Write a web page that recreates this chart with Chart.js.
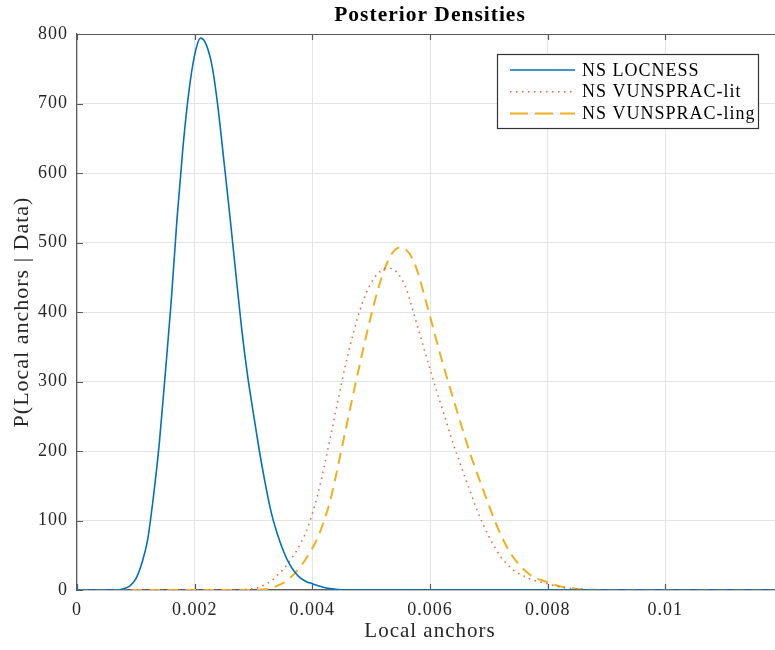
<!DOCTYPE html>
<html lang="en">
<head>
<meta charset="UTF-8">
<title>Posterior Densities</title>
<script src="https://cdn.jsdelivr.net/npm/chart.js"></script>
<style>
  html, body { margin: 0; padding: 0; background: #fff; overflow: hidden; }
</style>
</head>
<body>
<canvas id="posterior" width="790" height="650"></canvas>
<script>
const locnessX = [0, 0.0007, 0.0008, 0.0009, 0.0010, 0.0011, 0.0012, 0.0013, 0.0014, 0.0015, 0.0016, 0.0017,
  0.0018, 0.0019, 0.0020, 0.0021, 0.0022, 0.0023, 0.0024, 0.0025, 0.0026, 0.0027, 0.0028, 0.0029, 0.0030,
  0.0031, 0.0032, 0.0033, 0.0034, 0.0035, 0.0036, 0.0037, 0.0038, 0.0039, 0.0040, 0.0041, 0.0042, 0.0043,
  0.0044, 0.0045, 0.0046, 0.012];
const locnessY = [0, 0, 2, 6, 16, 38, 72, 135, 212, 311, 414, 534,
  636, 716, 770, 794, 784, 752, 692, 615, 537, 455, 375, 308, 253,
  200, 153, 112, 82, 58, 39, 26, 17, 12, 9, 6, 3.5, 2,
  1, 0.4, 0, 0];

const litX = [0, 0.0027, 0.0028, 0.0029, 0.0030, 0.0031, 0.0032, 0.0033, 0.0034, 0.0035, 0.0036, 0.0037,
  0.0038, 0.0039, 0.0040, 0.0041, 0.0042, 0.0043, 0.0044, 0.0045, 0.0046, 0.0047, 0.0048, 0.0049, 0.0050,
  0.0051, 0.0052, 0.0053, 0.0054, 0.0055, 0.0056, 0.0057, 0.0058, 0.0059, 0.0060, 0.0061, 0.0062, 0.0063,
  0.0064, 0.0065, 0.0066, 0.0067, 0.0068, 0.0069, 0.0070, 0.0071, 0.0072, 0.0073, 0.0074, 0.0075, 0.0076,
  0.0077, 0.0078, 0.0079, 0.0080, 0.0081, 0.0082, 0.0083, 0.0084, 0.0085, 0.0086, 0.0087, 0.0088, 0.0089, 0.012];
const litY = [0, 0, 0.5, 1, 2, 4, 8, 13, 21, 29, 40, 52,
  67, 85, 110, 140, 177, 217, 258, 299, 337, 371, 400, 424, 442,
  454, 461, 463, 460, 450, 433, 405, 376, 347, 318, 290, 263, 236,
  209, 185, 161, 138, 115, 95, 77, 62, 48, 38, 30, 24, 20,
  16, 13, 11, 9, 6.5, 4.5, 3, 2, 1.3, 0.8, 0.4, 0.2, 0, 0];

const lingX = [0, 0.0030, 0.0031, 0.0032, 0.0033, 0.0034, 0.0035, 0.0036, 0.0037, 0.0038, 0.0039, 0.0040,
  0.0041, 0.0042, 0.0043, 0.0044, 0.0045, 0.0046, 0.0047, 0.0048, 0.0049, 0.0050, 0.0051, 0.0052, 0.0053,
  0.0054, 0.0055, 0.0056, 0.0057, 0.0058, 0.0059, 0.0060, 0.0061, 0.0062, 0.0063, 0.0064, 0.0065, 0.0066,
  0.0067, 0.0068, 0.0069, 0.0070, 0.0071, 0.0072, 0.0073, 0.0074, 0.0075, 0.0076, 0.0077, 0.0078, 0.0079,
  0.0080, 0.0081, 0.0082, 0.0083, 0.0084, 0.0085, 0.0086, 0.0087, 0.0088, 0.0089, 0.0090, 0.012];
const lingY = [0, 0, 0.5, 1, 3, 6, 10, 16, 24, 34, 46, 60,
  77, 100, 127, 164, 204, 244, 284, 322, 360, 395, 428, 455, 476,
  489, 493, 489, 477, 455, 425, 394, 362, 331, 302, 274, 246, 218,
  192, 168, 145, 122, 100, 80, 63, 49, 38, 29, 22, 17, 14,
  11, 8, 5.5, 3.8, 2.5, 1.6, 1, 0.6, 0.3, 0.1, 0, 0];

const seriesNames = ['NS LOCNESS', 'NS VUNSPRAC-lit', 'NS VUNSPRAC-ling'];
const xTicks = [0, 0.002, 0.004, 0.006, 0.008, 0.01];

const serif = "'Liberation Serif', 'Times New Roman', serif";
const axisColor = '#5a5a5a';
const textColor = '#262626';
const gridColor = '#e4e4e4';

const pts = (xs, ys) => xs.map((x, i) => ({ x: x, y: ys[i] }));

// MATLAB text is drawn a bit wider than plain Times
const spacing = {
  id: 'spacing',
  beforeLayout(chart) { chart.ctx.letterSpacing = '1px'; },
  beforeDraw(chart) { chart.ctx.letterSpacing = '1px'; }
};

// top border and inward tick marks
const frame = {
  id: 'frame',
  beforeDatasetsDraw(chart) {
    const { ctx, chartArea: a, scales: { x, y } } = chart;
    ctx.save();
    ctx.strokeStyle = axisColor;
    ctx.lineWidth = 1.2;
    ctx.beginPath();
    ctx.moveTo(a.left, a.top + 0.5);
    ctx.lineTo(a.right, a.top + 0.5);
    x.ticks.forEach(t => {
      const px = Math.round(x.getPixelForValue(t.value)) + 0.5;
      ctx.moveTo(px, a.bottom); ctx.lineTo(px, a.bottom - 6);
      ctx.moveTo(px, a.top); ctx.lineTo(px, a.top + 6);
    });
    y.ticks.forEach(t => {
      const py = Math.round(y.getPixelForValue(t.value)) + 0.5;
      ctx.moveTo(a.left, py); ctx.lineTo(a.left + 6, py);
    });
    ctx.stroke();
    ctx.restore();
  }
};

// boxed legend in the upper right, like MATLAB's 'northeast'
const boxLegend = {
  id: 'boxLegend',
  afterDraw(chart) {
    const { ctx, chartArea: a } = chart;
    const left = a.left + 420, top = a.top + 20, w = 261, h = 74;
    ctx.save();
    ctx.fillStyle = '#fff';
    ctx.fillRect(left, top, w, h);
    ctx.strokeStyle = '#333';
    ctx.lineWidth = 1.2;
    ctx.strokeRect(left + 0.5, top + 0.5, w, h);
    ctx.font = '18px ' + serif;
    ctx.textBaseline = 'middle';
    ctx.textAlign = 'left';
    chart.data.datasets.forEach((ds, i) => {
      const yy = top + 16 + i * 21.7;
      ctx.strokeStyle = ds.borderColor;
      ctx.lineWidth = ds.borderWidth;
      ctx.setLineDash(i === 2 ? [18, 7] : (ds.borderDash || []));
      ctx.beginPath();
      ctx.moveTo(left + 13, yy);
      ctx.lineTo(left + 78, yy);
      ctx.stroke();
      ctx.setLineDash([]);
      ctx.fillStyle = '#000';
      ctx.fillText(ds.label, left + 85, yy + 1);
    });
    ctx.restore();
  }
};

new Chart(document.getElementById('posterior'), {
  type: 'line',
  data: {
    datasets: [
      {
        label: seriesNames[0],
        data: pts(locnessX, locnessY),
        borderColor: '#0072BD',
        borderWidth: 1.6
      },
      {
        label: seriesNames[1],
        data: pts(litX, litY),
        borderColor: '#E0683A',
        borderWidth: 1.5,
        borderDash: [1.5, 4.5]
      },
      {
        label: seriesNames[2],
        data: pts(lingX, lingY),
        borderColor: '#EDB120',
        borderWidth: 2,
        borderDash: [11, 7]
      }
    ]
  },
  options: {
    responsive: false,
    animation: false,
    events: [],
    elements: {
      point: { radius: 0 },
      line: { cubicInterpolationMode: 'monotone', fill: false }
    },
    layout: { padding: { left: 0, right: 7, top: 0, bottom: 0 } },
    plugins: {
      legend: { display: false },
      tooltip: { enabled: false },
      title: {
        display: true,
        text: 'Posterior Densities',
        color: '#000',
        fullSize: false,
        font: { family: serif, size: 21.5, weight: 'bold', lineHeight: 1 },
        padding: { top: 4.5, bottom: 8 }
      }
    },
    scales: {
      x: {
        type: 'linear',
        min: 0,
        max: 0.012,
        afterBuildTicks: s => { s.ticks = xTicks.map(v => ({ value: v })); },
        afterFit: s => { s.height = 60; },
        ticks: {
          color: textColor,
          padding: 9,
          maxRotation: 0,
          font: { family: serif, size: 18 },
          callback: v => String(+Number(v).toFixed(3))
        },
        grid: { color: gridColor, drawTicks: false },
        border: { color: axisColor, width: 1.2 },
        title: {
          display: true,
          text: 'Local anchors',
          color: textColor,
          font: { family: serif, size: 21 },
          padding: { top: 0, bottom: 6 }
        }
      },
      y: {
        min: 0,
        max: 800,
        afterFit: s => { s.width = 77; },
        ticks: {
          stepSize: 100,
          color: textColor,
          padding: 9,
          font: { family: serif, size: 18 }
        },
        grid: { color: gridColor, drawTicks: false },
        border: { color: axisColor, width: 1.2 },
        title: {
          display: true,
          text: 'P(Local anchors | Data)',
          color: textColor,
          font: { family: serif, size: 22 },
          padding: { top: 9, bottom: 0 }
        }
      }
    }
  },
  plugins: [spacing, frame, boxLegend]
});
</script>
</body>
</html>
